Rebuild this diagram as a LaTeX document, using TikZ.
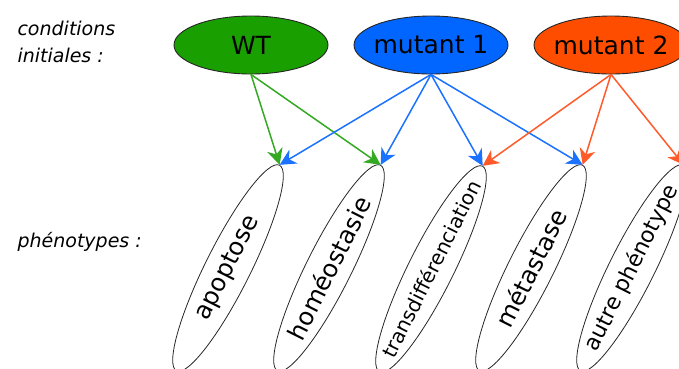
\documentclass[tikz,border=0pt]{standalone}
\usepackage{fontspec}
\setmainfont{DejaVu Sans}
\usetikzlibrary{arrows.meta,shapes.geometric}

\definecolor{wtfill}{HTML}{1A9F00}
\definecolor{wtline}{HTML}{33AA22}
\definecolor{mufill}{HTML}{0066FF}
\definecolor{muline}{HTML}{1A72FF}
\definecolor{mdfill}{HTML}{FF4D00}
\definecolor{mdline}{HTML}{FF5A2A}

\begin{document}
\begin{tikzpicture}[x=1pt,y=-1pt,
  etat/.style={ellipse,draw=black!85,line width=0.9pt,inner sep=0pt,
    minimum width=154pt,minimum height=58pt,font=\fontsize{25}{30}\selectfont},
  pheno/.style={ellipse,draw=black!85,line width=0.8pt,inner sep=0pt,
    minimum width=230pt,minimum height=45pt,rotate=63.4,
    font=\fontsize{24.5}{28}\selectfont},
  legende/.style={anchor=base west,font=\fontsize{19}{23}\selectfont\itshape},
  fleche/.style={line width=1.5pt,-{Stealth[length=16pt,width=16pt,inset=5pt]}}]
                        \useasboundingbox (0,0) rectangle (679,368);
                        \clip (0,0) rectangle (679,368);

                        % Labels on the left
                        \node [legende] (cond) at (14,35) {conditions};
                        \node [legende] (init) at (14,62) {initiales :};
                        \node [legende] (phen) at (14,247) {phénotypes :};

                        % Initial conditions
                        \node [etat,fill=wtfill] (wt) at (251,45) {\makebox[0pt]{WT}};
                        \node [etat,fill=mufill] (mu1) at (431,45) {\makebox[0pt]{mutant 1}};
                        \node [etat,fill=mdfill] (mu2) at (611,45) {\makebox[0pt]{mutant 2}};

                        % Phenotypes
                        \node [pheno] (apo) at (228,268) {\makebox[0pt]{apoptose}};
                        \node [pheno] (homeo) at (329,268) {\makebox[0pt]{homéostasie}};
                        \node [pheno,font=\fontsize{20}{24}\selectfont] (trans) at (431,269) {\makebox[0pt]{transdifférenciation}};
                        \node [pheno] (meta) at (531,268) {\makebox[0pt]{métastase}};
                        \node [pheno,font=\fontsize{22}{26}\selectfont] (autre) at (632,268) {\makebox[0pt]{autre phénotype}};

                        % Drawing arrows from WT
                        \draw [fleche,wtline] (wt.south) -- (apo.east);
                        \draw [fleche,wtline] (wt.south) -- (homeo.east);

                        % Drawing arrows from mutant 1
                        \draw [fleche,muline] (mu1.south) -- (apo.east);
                        \draw [fleche,muline] (mu1.south) -- (homeo.east);
                        \draw [fleche,muline] (mu1.south) -- (trans.east);
                        \draw [fleche,muline] (mu1.south) -- (meta.east);

                        % Drawing arrows from mutant 2
                        \draw [fleche,mdline] (mu2.south) -- (trans.east);
                        \draw [fleche,mdline] (mu2.south) -- (meta.east);
                        \draw [fleche,mdline] (mu2.south) -- (autre.east);
\end{tikzpicture}
\end{document}
